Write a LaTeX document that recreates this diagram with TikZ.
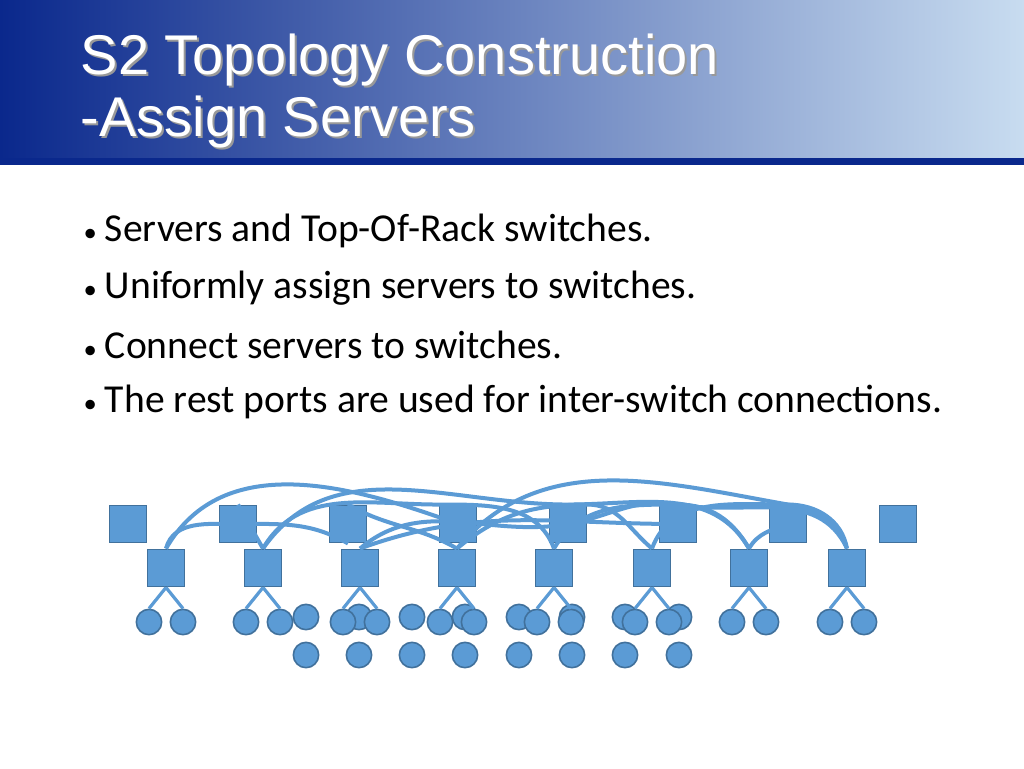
\documentclass[tikz,border=0pt]{standalone}
\usepackage{fontspec}
\setmainfont{Carlito}
\newfontfamily\titlefont{Liberation Sans}
\definecolor{hdrdark}{RGB}{10,40,140}
\definecolor{hdrlight}{RGB}{200,220,240}
\definecolor{nodefill}{RGB}{91,155,213}
\definecolor{nodeline}{RGB}{65,113,156}
\tikzset{
  tor/.style={draw=nodeline, fill=nodefill, line width=1.2pt, minimum size=28pt, inner sep=0pt},
  srv/.style={draw=nodeline, fill=nodefill, line width=1.2pt, circle, minimum size=19pt, inner sep=0pt},
  link/.style={draw=nodefill, line width=3pt},
}
\begin{document}
\begin{tikzpicture}[x=0.75pt, y=-0.75pt]
  \useasboundingbox (0,0) rectangle (1024,768);
  \fill[white] (0,0) rectangle (1024,768);
  % header
  \shade[left color=hdrdark, right color=hdrlight] (0,0) rectangle (1024,158);
  \fill[hdrdark] (0,158) rectangle (1024,165);
  \node[anchor=west, text=black!40, align=left, font=\titlefont\fontsize{42}{46}\selectfont] at (78,93) {S2 Topology Construction\\-Assign Servers};
  \node[anchor=west, text=white, align=left, font=\titlefont\fontsize{42}{46}\selectfont] (title) at (76,91) {S2 Topology Construction\\-Assign Servers};
  % bullets
  \foreach \txt [count=\i] in {Servers and Top-Of-Rack switches., Uniformly assign servers to switches., Connect servers to switches., The rest ports are used for inter-switch connections.}
    \node[anchor=west, font=\fontsize{29.7}{32}\selectfont] (b\i) at (79,174+57*\i) {{\fontsize{20}{20}\selectfont\textbullet}\hspace{6pt}\txt};

  % upper row of switches
  \foreach \x [count=\i] in {128,238,348,458,568,678,788,898}
    \node[tor] (T\i) at (\x,524) {};
  % lower row of switches
  \foreach \x [count=\i] in {166,263,360,457,554,652,749,847}
    \node[tor] (S\i) at (\x,568) {};

  % inter-switch links
  \draw[link] (S1.north) to[out=75, in=180] (T2.center) to[out=0, in=150] (T3.south);
  \draw[link] (S1.north) to[out=60, in=160] (T4.center);
  \draw[link] (S2.north) to[out=60, in=180] (T4.north west) to[out=0, in=110] (S5.north);
  \draw[link] (T2.north) to[out=-60, in=120] (S2.north);
  \draw[link] (S2.north) to[out=55, in=180] (T5.north) to[out=0, in=120] (S7.north);
  \draw[link] (S3.north) to[out=40, in=190] (T5.center) to[out=10, in=170] (T6.north) to[out=-10, in=115] (S8.north);
  \draw[link] (T3.north) to[out=-30, in=150] (S4.north);
  \draw[link] (S3.north) to[out=20, in=180] (T6.center);
  \draw[link] (S4.north) to[out=40, in=180] (T5.north east) to[out=0, in=140] (S6.north);
  \draw[link] (S4.north) to[out=50, in=170] (T7.north) to[out=-10, in=110] (S8.north);
  \draw[link] (S5.north) to[out=60, in=180] (T6.north) to[out=0, in=120] (S7.north);
  \draw[link] (S6.north) to[out=70, in=180] (T7.north) to[out=0, in=100] (S8.north);
  \draw[link] (S7.north) to[out=60, in=200] (T7.center);

  % second row servers (moved)
  \foreach \x [count=\i] in {306,359,412,465,519,572,625,679} {
    \node[srv] (M\i) at (\x,617) {};
    \node[srv] (R\i) at (\x,655) {};
  }
  % servers under each switch
  \foreach \i/\x in {1/166,2/263,3/360,4/457,5/554,6/652,7/749,8/847} {
    \node[srv] (L\i) at (\x-17,622) {};
    \node[srv] (K\i) at (\x+17,622) {};
    \draw[link, line width=2.4pt] (S\i.south) -- (L\i.north);
    \draw[link, line width=2.4pt] (S\i.south) -- (K\i.north);
  }
\end{tikzpicture}
\end{document}
